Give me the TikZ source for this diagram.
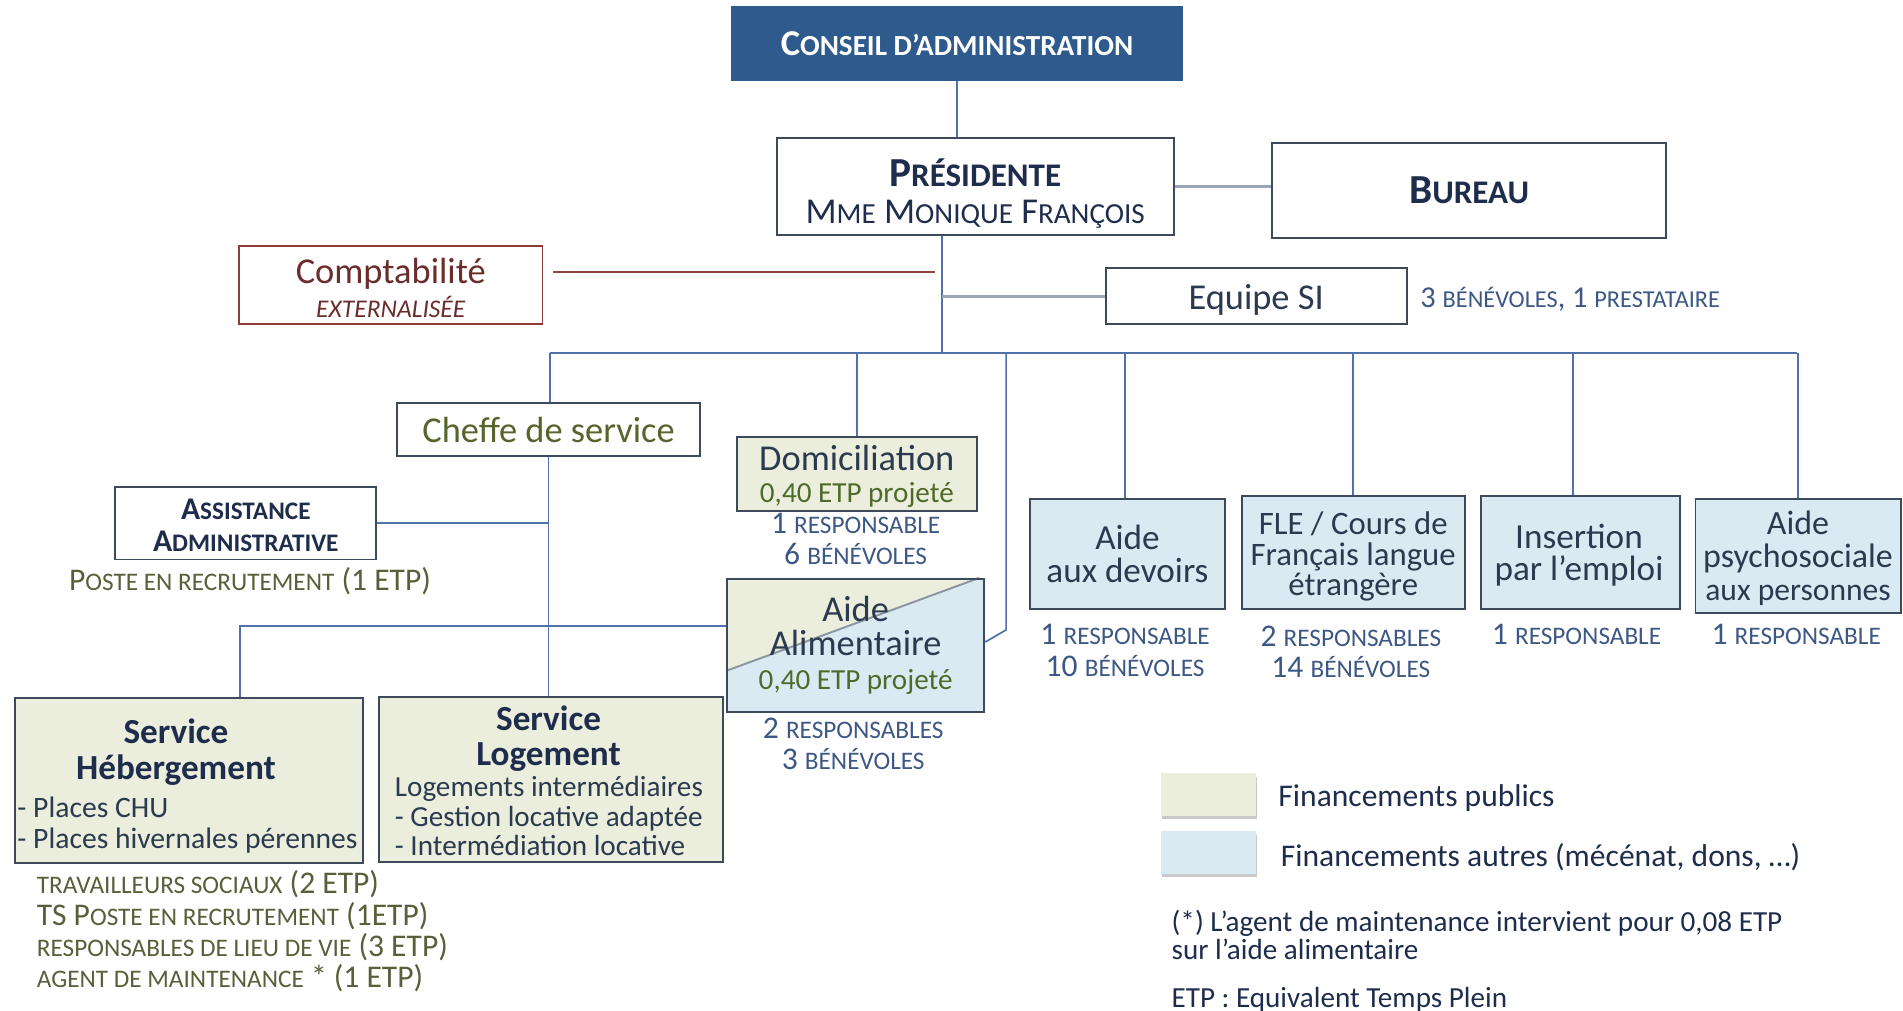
\documentclass[tikz,border=0pt]{standalone}
\usepackage{fontspec}
\setmainfont{Carlito}
\usetikzlibrary{calc,backgrounds,shadows}
\definecolor{navy}{HTML}{1F2D4D}
\definecolor{cadre}{HTML}{3E4A5C}
\definecolor{conseilbg}{HTML}{2E5A8E}
\definecolor{lien}{HTML}{4F72AA}
\definecolor{liengris}{HTML}{9AA5B5}
\definecolor{rouge}{HTML}{8E3A3A}
\definecolor{rougetxt}{HTML}{6B2C2C}
\definecolor{olive}{HTML}{55652C}
\definecolor{olivegris}{HTML}{58603A}
\definecolor{vert}{HTML}{4F6B2A}
\definecolor{beige}{HTML}{EBEEDC}
\definecolor{bleuclair}{HTML}{DAEAF3}
\definecolor{ardoise}{HTML}{2B3A4E}
\definecolor{etiq}{HTML}{3D5885}
\definecolor{diag}{HTML}{8C96A3}
\makeatletter
\newcommand\smc[1]{{\fontsize{\fpeval{0.8*\f@size}}{\f@baselineskip}\selectfont #1}}
\makeatother
\newcommand\fs[2]{\fontsize{#1}{#2}\selectfont}
\tikzset{
  boite/.style={draw=cadre, line width=0.8pt, inner sep=0pt, align=center, text=ardoise},
  texte/.style={inner sep=0pt, align=center, text=ardoise},
  arbre/.style={draw=lien, line width=0.7pt},
  lienG/.style={draw=liengris, line width=1.3pt},
  lienR/.style={draw=rouge!85!gray, line width=0.8pt},
  etiquette/.style={inner sep=0pt, align=center, text=etiq, font=\fs{13}{13}},
  legende/.style={inner sep=0pt, minimum width=39pt, minimum height=17.5pt,
    drop shadow={shadow xshift=0.3pt, shadow yshift=-1.5pt, fill=gray!70, opacity=0.6}},
}
\begin{document}
\begin{tikzpicture}[x=0.5pt,y=-0.5pt]
\begin{scope}[on background layer]
\fill[white] (0,0) rectangle (1568,833);
\end{scope}
\useasboundingbox (0,0) rectangle (1568,833);

% --- top
\node[boite, fill=conseilbg, draw=conseilbg, minimum width=185.5pt, minimum height=30pt,
  text=white, font=\fs{15}{18}\bfseries] (conseil) at (788.5,36) {C\smc{ONSEIL D’ADMINISTRATION}};
\node[boite, minimum width=163.5pt, minimum height=40pt] (pres) at (803.5,154) {};
\node[texte, text=navy, font=\fs{15}{15}] (prestxt) at (803.5,159.5)
  {{\fontsize{17}{15}\selectfont\bfseries P\smc{RÉSIDENTE}}\\M\smc{ME} M\smc{ONIQUE} F\smc{RANÇOIS}};
\node[boite, minimum width=162.5pt, minimum height=39pt, text=navy, font=\fs{17}{18}\bfseries] (bureau) at (1210.5,157) {B\smc{UREAU}};
\node[boite, draw=rouge, minimum width=125pt, minimum height=32pt] (compta) at (322,235) {};
\node[texte, text=rougetxt, font=\fs{15}{14}] (comptatxt) at (322,237)
  {Comptabilité\\{\fs{10.5}{14}\itshape EXTERNALISÉE}};
\node[boite, minimum width=124pt, minimum height=23pt] (equipe) at (1035,244) {};
\node[texte, font=\fs{15}{18}] (equipetxt) at (1035,247) {Equipe SI};
\node[texte, anchor=west, text=etiq, font=\fs{12.5}{15}] (equipelab) at (1170,247) {3 \smc{BÉNÉVOLES}, 1 \smc{PRESTATAIRE}};

% --- left branch
\node[boite, minimum width=125pt, minimum height=22pt, text=olive, font=\fs{15}{18}] (cheffe) at (452,354) {Cheffe de service};
\node[boite, minimum width=107.5pt, minimum height=30pt] (assist) at (202.5,431) {};
\node[texte, text=navy, font=\fs{13}{13}\bfseries] (assisttxt) at (202.5,433)
  {A\smc{SSISTANCE}\\A\smc{DMINISTRATIVE}};
\node[texte, text=olivegris, font=\fs{13}{15}] (assistlab) at (206,479) {P\smc{OSTE EN RECRUTEMENT} (1 ETP)};

\node[boite, fill=beige, minimum width=143.5pt, minimum height=68pt] (heberg) at (155.5,643) {};
\node[texte, text=navy, font=\fs{14.5}{15}\bfseries] (hebergtitre) at (145,619.5) {Service\\Hébergement};
\node[texte, anchor=west, align=left, font=\fs{12.2}{13}] (hebergtxt) at (14,680) {- Places CHU\\- Places hivernales pérennes};

\node[boite, fill=beige, minimum width=142pt, minimum height=68pt] (logem) at (454,642) {};
\node[texte, text=navy, font=\fs{14.5}{14.5}\bfseries] (logemtitre) at (452,608.5) {Service\\Logement};
\node[texte, anchor=west, align=left, font=\fs{12}{12.25}] (logemtxt) at (325,672.5)
  {Logements intermédiaires\\- Gestion locative adaptée\\- Intermédiation locative};

\node[texte, anchor=west, align=left, text=olivegris, font=\fs{13}{12.9}] (hebergstaff) at (30,767.5)
  {\smc{TRAVAILLEURS SOCIAUX} (2 ETP)\\TS P\smc{OSTE EN RECRUTEMENT} (1ETP)\\\smc{RESPONSABLES DE LIEU DE VIE} (3 ETP)\\\smc{AGENT DE MAINTENANCE} * (1 ETP)};

% --- middle
\node[boite, fill=beige, minimum width=99pt, minimum height=30.5pt] (domic) at (706,390.5) {};
\node[texte, font=\fs{15}{13.5}] (domictxt) at (706,392.5)
  {Domiciliation\\{\fs{12}{13.5}\color{vert}0,40 ETP projeté}};
\node[etiquette] (domiclab) at (705,444) {1 \smc{RESPONSABLE}\\6 \smc{BÉNÉVOLES}};

\node[boite, minimum width=106pt, minimum height=55pt, font=\fs{15}{14}] (alim) at (705,532)
  {Aide\\Alimentaire\\{\fs{12}{14}\color{vert}0,40 ETP projeté}};
\begin{scope}[on background layer]
  \fill[bleuclair] (alim.north west) rectangle (alim.south east);
  \fill[beige] (alim.north west) -- ([yshift=17.5pt]alim.south west) -- ([xshift=-2.5pt]alim.north east) -- cycle;
  \draw[diag, line width=0.8pt] ([yshift=17.5pt]alim.south west) -- ([xshift=-2.5pt]alim.north east);
\end{scope}
\node[etiquette] (alimlab) at (703,613) {2 \smc{RESPONSABLES}\\3 \smc{BÉNÉVOLES}};

% --- right services
\node[boite, fill=bleuclair, minimum width=80pt, minimum height=45.5pt, font=\fs{14.5}{13.5}] (devoirs) at (929,456.5) {Aide\\aux devoirs};
\node[etiquette] (devoirslab) at (927,536) {1 \smc{RESPONSABLE}\\10 \smc{BÉNÉVOLES}};
\node[boite, fill=bleuclair, minimum width=92pt, minimum height=46.5pt] (fle) at (1115,455.5) {};
\node[texte, font=\fs{13.5}{12.75}] (fletxt) at (1115,458.5) {FLE / Cours de\\Français langue\\étrangère};
\node[etiquette] (flelab) at (1113,537) {2 \smc{RESPONSABLES}\\14 \smc{BÉNÉVOLES}};
\node[boite, fill=bleuclair, minimum width=82pt, minimum height=46.5pt] (insert) at (1302,455.5) {};
\node[texte, font=\fs{14.5}{13.5}] (inserttxt) at (1301,457.5) {Insertion\\par l’emploi};
\node[etiquette] (insertlab) at (1299,523) {1 \smc{RESPONSABLE}};
\node[boite, fill=bleuclair, minimum width=84.5pt, minimum height=47pt] (psy) at (1481.5,458) {};
\node[texte, font=\fs{14}{13.5}] (psytxt) at (1481.5,460) {Aide\\psychosociale\\{\fs{13}{13.5}aux personnes}};
\node[etiquette] (psylab) at (1480,523) {1 \smc{RESPONSABLE}};

% --- legend
\node[legende, fill=beige] (legpub) at (996,654.5) {};
\node[legende, fill=bleuclair] (legaut) at (996,702.5) {};
\node[texte, anchor=west, text=navy, font=\fs{13}{15}] (legpubtxt) at (1053,658) {Financements publics};
\node[texte, anchor=west, text=navy, font=\fs{13}{15}] (legauttxt) at (1055,706) {Financements autres (mécénat, dons, …)};
\node[texte, anchor=west, align=left, text=navy, font=\fs{12}{11.5}] (note) at (965,770)
  {(*) L’agent de maintenance intervient pour 0,08 ETP\\sur l’aide alimentaire};
\node[texte, anchor=west, text=navy, font=\fs{12}{15}] (etp) at (965,823.5) {ETP : Equivalent Temps Plein};

% --- connectors
\coordinate (tronc) at (776,291);
\coordinate (busG) at (453,291);
\coordinate (busD) at (1481,291);
\coordinate (comptaFin) at (770,224);
\coordinate (hg) at (198,516);
\coordinate (alimcoude) at (829,519);

\draw[arbre] (conseil.south) -- (conseil.south |- pres.north);
\draw[lienG] (pres.east) -- (pres.east -| bureau.west);
\draw[arbre] (tronc |- pres.south) -- (tronc);
\draw[lienR] ([xshift=4pt,yshift=5.5pt]compta.east) -- (comptaFin);
\draw[lienG] (tronc |- equipe.west) -- (equipe.west);
\draw[arbre] (busG) -- (busD);
\draw[arbre] (busG) -- (busG |- cheffe.north);
\draw[arbre] (cheffe.south) -- (cheffe.south |- logem.north);
\draw[arbre] (assist.east) -- (assist.east -| cheffe.south);
\draw[arbre] (hg |- heberg.north) -- (hg) -- (hg -| alim.west);
\draw[arbre] (domic.north |- busG) -- (domic.north);
\draw[arbre] (alimcoude |- busG) -- (alimcoude) -- ([yshift=1.5pt]alim.east);
\draw[arbre] ([xshift=-1pt]devoirs.north |- busG) -- ([xshift=-1pt]devoirs.north);
\draw[arbre] (fle.north |- busG) -- (fle.north);
\draw[arbre] ([xshift=-3pt]insert.north |- busG) -- ([xshift=-3pt]insert.north);
\draw[arbre] (psy.north |- busD) -- (psy.north);
\end{tikzpicture}
\end{document}
